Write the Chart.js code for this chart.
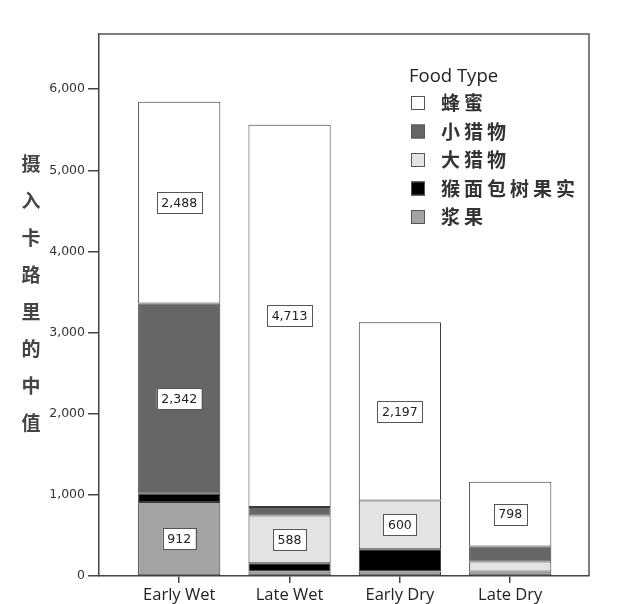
<!DOCTYPE html>
<html>
<head>
<meta charset="utf-8">
<script src="https://cdn.jsdelivr.net/npm/chart.js@4/dist/chart.umd.min.js"></script>
<style>
  html, body { margin: 0; padding: 0; background: #fff; }
  #wrap { width: 631px; height: 604px; position: relative; }
</style>
</head>
<body>
<div id="wrap"><canvas id="chart"></canvas></div>
<script>
// --- Data ---
const categories = ['Early Wet', 'Late Wet', 'Early Dry', 'Late Dry'];
const berries  = [912, 55, 55, 55];      // 浆果
const baobab   = [103, 103, 275, 0];     // 猴面包树果实
const bigGame  = [0, 588, 600, 123];     // 大猎物
const smallGame = [2342, 103, 0, 185];   // 小猎物
const honey    = [2488, 4713, 2197, 798]; // 蜂蜜
const yTicks = [0, 1000, 2000, 3000, 4000, 5000, 6000];
const yTitle = '摄入卡路里的中值';
const legendTitle = 'Food Type';

// --- Helpers ---
function pts(arr) {
  return arr.map((v, i) => ({ x: i + 1, y: v }));
}

function ds(label, arr, color) {
  return {
    label,
    data: pts(arr),
    backgroundColor: color,
    borderColor: '#3a3a3a',
    borderWidth: 1,
    borderSkipped: false,
    barPercentage: 0.745,
    categoryPercentage: 1
  };
}

// --- Plugins ---
const framePlugin = {
  id: 'frame',
  afterDatasetsDraw(chart) {
    const { ctx, chartArea: a } = chart;
    ctx.save();
    ctx.strokeStyle = '#555';
    ctx.lineWidth = 1.5;
    ctx.beginPath();
    ctx.moveTo(a.left, a.top);
    ctx.lineTo(a.right, a.top);
    ctx.lineTo(a.right, a.bottom);
    ctx.stroke();
    ctx.restore();
  }
};

const valueBoxes = {
  id: 'valueBoxes',
  afterDatasetsDraw(chart) {
    const ctx = chart.ctx;
    ctx.save();
    ctx.font = '12.5px "DejaVu Sans"';
    ctx.textAlign = 'center';
    ctx.textBaseline = 'middle';
    chart.data.datasets.forEach((d, di) => {
      chart.getDatasetMeta(di).data.forEach((el, i) => {
        const v = d.data[i].y;
        if (v < 500) return;
        const txt = v.toLocaleString('en-US');
        const cx = el.x;
        const cy = (el.y + el.base) / 2;
        const w = ctx.measureText(txt).width + 9;
        const h = 21;
        ctx.fillStyle = '#fff';
        ctx.fillRect(cx - w / 2, cy - h / 2, w, h);
        ctx.strokeStyle = '#555';
        ctx.lineWidth = 1;
        ctx.strokeRect(Math.round(cx - w / 2) + 0.5, Math.round(cy - h / 2) + 0.5, Math.round(w), h);
        ctx.fillStyle = '#222';
        ctx.fillText(txt, cx, cy + 1);
      });
    });
    ctx.restore();
  }
};

const sideLegend = {
  id: 'sideLegend',
  afterDraw(chart) {
    const ctx = chart.ctx;
    ctx.save();
    ctx.fillStyle = '#222';
    ctx.textBaseline = 'middle';
    ctx.textAlign = 'left';
    ctx.font = '18.5px "Open Sans"';
    ctx.fillText(legendTitle, 409, 77);
    const items = chart.data.datasets.slice().reverse();
    items.forEach((d, i) => {
      const y = 103 + i * 28.5;
      ctx.fillStyle = d.backgroundColor;
      ctx.fillRect(411, y - 7, 14, 14);
      ctx.strokeStyle = '#555';
      ctx.lineWidth = 1;
      ctx.strokeRect(411.5, y - 6.5, 13, 13);
      ctx.fillStyle = '#333';
      ctx.font = 'bold 19px "Noto Sans CJK SC"';
      ctx.letterSpacing = '4px';
      ctx.fillText(d.label, 441, y);
      ctx.letterSpacing = '0px';
    });
    ctx.restore();
  }
};

const verticalTitle = {
  id: 'verticalTitle',
  afterDraw(chart) {
    const ctx = chart.ctx;
    ctx.save();
    ctx.fillStyle = '#444';
    ctx.font = 'bold 19px "Noto Sans CJK SC"';
    ctx.textAlign = 'center';
    ctx.textBaseline = 'middle';
    [...yTitle].forEach((ch, i) => ctx.fillText(ch, 31, 164 + i * 37));
    ctx.restore();
  }
};

// --- Chart ---
new Chart(document.getElementById('chart'), {
  type: 'bar',
  data: {
    datasets: [
      ds('浆果', berries, '#a3a3a3'),
      ds('猴面包树果实', baobab, '#000000'),
      ds('大猎物', bigGame, '#e3e3e3'),
      ds('小猎物', smallGame, '#666666'),
      ds('蜂蜜', honey, '#ffffff')
    ]
  },
  options: {
    responsive: true,
    maintainAspectRatio: false,
    animation: false,
    layout: { padding: { left: 0, top: 34, right: 42, bottom: 0 } },
    plugins: {
      legend: { display: false },
      tooltip: { enabled: false }
    },
    scales: {
      x: {
        type: 'linear',
        stacked: true,
        min: 0.273,
        max: 4.714,
        offset: false,
        afterBuildTicks(axis) {
          axis.ticks = categories.map((c, i) => ({ value: i + 1 }));
        },
        afterFit(axis) { axis.height = 28; },
        grid: { offset: false, drawOnChartArea: false, drawTicks: true, tickLength: 7, color: '#444', lineWidth: 1.5 },
        border: { display: true, color: '#444', width: 1.5 },
        ticks: {
          autoSkip: false,
          maxRotation: 0,
          padding: 2,
          color: '#222',
          font: { size: 16.5, family: 'Open Sans' },
          callback: v => categories[v - 1] || ''
        }
      },
      y: {
        stacked: true,
        min: 0,
        max: 6680,
        afterBuildTicks(axis) {
          axis.ticks = yTicks.map(v => ({ value: v }));
        },
        afterFit(axis) { axis.width = 99; },
        grid: { drawOnChartArea: false, drawTicks: true, tickLength: 11, color: '#444', lineWidth: 1.5 },
        border: { display: true, color: '#444', width: 1.5 },
        ticks: {
          padding: 3,
          color: '#333',
          font: { size: 12.5, family: 'DejaVu Sans' },
          callback: v => v.toLocaleString('en-US')
        }
      }
    }
  },
  plugins: [framePlugin, valueBoxes, sideLegend, verticalTitle]
});
</script>
</body>
</html>
